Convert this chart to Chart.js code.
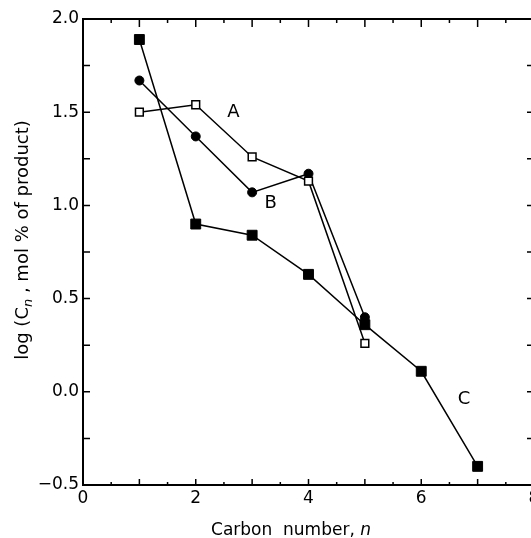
<!DOCTYPE html>
<html><head><meta charset="utf-8">
<style>html,body{margin:0;padding:0;background:#fff;overflow:hidden}
#wrap{position:relative;width:545px;height:538px}</style>
<script src="https://cdn.jsdelivr.net/npm/chart.js@4/dist/chart.umd.min.js"></script>
</head><body><div id="wrap"><canvas id="c" width="545" height="538"></canvas></div>
<script>
// ---- data ----
const carbonNumbersAB = [1, 2, 3, 4, 5];
const carbonNumbersC = [1, 2, 3, 4, 5, 6, 7];
const seriesA = [1.50, 1.54, 1.26, 1.13, 0.26];
const seriesB = [1.67, 1.37, 1.07, 1.17, 0.40];
const seriesC = [1.89, 0.90, 0.84, 0.63, 0.36, 0.11, -0.40];
const seriesNames = ['A', 'B', 'C'];
const xTickValues = [0, 2, 4, 6, 8];
const yTickValues = [-0.5, 0.0, 0.5, 1.0, 1.5, 2.0];
const xTitleParts = ['Carbon  number, ', 'n'];
const yTitleParts = ['log (C', 'n', ' , mol % of product)'];

// series label anchors (data coordinates)
const seriesLabelAt = [[2.67, 1.50], [3.33, 1.01], [6.76, -0.04]];

const FONT = '"DejaVu Sans", sans-serif';

const framePlugin = {
  id: 'frame',
  afterDraw(chart) {
    const {ctx, chartArea: a, scales: {x, y}} = chart;
    ctx.save();
    ctx.strokeStyle = '#000';
    ctx.lineWidth = 2;
    ctx.strokeRect(a.left, a.top, a.right - a.left, a.bottom - a.top);
    ctx.lineWidth = 1.5;
    ctx.beginPath();
    for (let v = 0; v <= 8.001; v += 0.5) {
      const px = x.getPixelForValue(v);
      const major = Math.abs(v - Math.round(v)) < 1e-6;
      ctx.moveTo(px, a.bottom); ctx.lineTo(px, a.bottom - (major ? 6 : 3));
      ctx.moveTo(px, a.top); ctx.lineTo(px, a.top + (major ? 8 : 4));
    }
    for (let v = -0.5; v <= 2.001; v += 0.25) {
      const py = y.getPixelForValue(v);
      ctx.moveTo(a.left, py); ctx.lineTo(a.left + 7, py);
      ctx.moveTo(a.right, py); ctx.lineTo(a.right - 7, py);
    }
    ctx.stroke();

    // series labels
    ctx.fillStyle = '#000';
    ctx.font = '18px ' + FONT;
    ctx.textAlign = 'center';
    ctx.textBaseline = 'middle';
    seriesNames.forEach((s, i) => {
      const [vx, vy] = seriesLabelAt[i];
      ctx.fillText(s, x.getPixelForValue(vx), y.getPixelForValue(vy));
    });

    // x title
    ctx.textAlign = 'left';
    ctx.textBaseline = 'alphabetic';
    const f1 = '17px ' + FONT, f2 = 'italic 17px ' + FONT;
    ctx.font = f1; const w1 = ctx.measureText(xTitleParts[0]).width;
    ctx.font = f2; const w2 = ctx.measureText(xTitleParts[1]).width;
    let sx = 291 - (w1 + w2) / 2;
    ctx.font = f1; ctx.fillText(xTitleParts[0], sx, 535);
    ctx.font = f2; ctx.fillText(xTitleParts[1], sx + w1, 535);

    // y title (rotated)
    ctx.translate(28, 240);
    ctx.rotate(-Math.PI / 2);
    const g1 = '18px ' + FONT, gs = 'italic 13px ' + FONT;
    ctx.font = g1; const a1 = ctx.measureText(yTitleParts[0]).width;
    ctx.font = gs; const a2 = ctx.measureText(yTitleParts[1]).width;
    ctx.font = g1; const a3 = ctx.measureText(yTitleParts[2]).width;
    let t = -(a1 + a2 + a3) / 2;
    ctx.font = g1; ctx.fillText(yTitleParts[0], t, 0);
    ctx.font = gs; ctx.fillText(yTitleParts[1], t + a1, 4);
    ctx.font = g1; ctx.fillText(yTitleParts[2], t + a1 + a2, 0);
    ctx.restore();
  }
};

const toPts = (xs, ys) => xs.map((n, i) => ({x: n, y: ys[i]}));

new Chart(document.getElementById('c').getContext('2d'), {
  type: 'scatter',
  data: {
    datasets: [
      {label: seriesNames[0], data: toPts(carbonNumbersAB, seriesA), showLine: true,
       borderColor: '#000', borderWidth: 1.5, pointStyle: 'rect', pointRadius: 5.5,
       pointBackgroundColor: '#fff', pointBorderColor: '#000', pointBorderWidth: 1.5},
      {label: seriesNames[1], data: toPts(carbonNumbersAB, seriesB), showLine: true,
       borderColor: '#000', borderWidth: 1.5, pointStyle: 'circle', pointRadius: 4.5,
       pointBackgroundColor: '#000', pointBorderColor: '#000', pointBorderWidth: 1},
      {label: seriesNames[2], data: toPts(carbonNumbersC, seriesC), showLine: true,
       borderColor: '#000', borderWidth: 1.5, pointStyle: 'rect', pointRadius: 7,
       pointBackgroundColor: '#000', pointBorderColor: '#000', pointBorderWidth: 1}
    ]
  },
  options: {
    responsive: false, animation: false, devicePixelRatio: 1,
    layout: {padding: {left: 0, top: 19, right: 11, bottom: 0}},
    plugins: {legend: {display: false}, tooltip: {enabled: false}},
    scales: {
      x: {
        type: 'linear', min: 0, max: 8,
        afterBuildTicks: s => { s.ticks = xTickValues.map(v => ({value: v})); },
        ticks: {color: '#000', font: {family: FONT, size: 17}, padding: 3, maxRotation: 0,
                callback: v => String(v)},
        grid: {display: false, drawTicks: false}, border: {display: false},
        afterFit: s => { s.height = 53; }
      },
      y: {
        type: 'linear', min: -0.5, max: 2,
        afterBuildTicks: s => { s.ticks = yTickValues.map(v => ({value: v})); },
        ticks: {color: '#000', font: {family: FONT, size: 17}, padding: 4,
                callback: v => Number(v).toFixed(1).replace('-', '\u2212')},
        grid: {display: false, drawTicks: false}, border: {display: false},
        afterFit: s => { s.width = 83; }
      }
    }
  },
  plugins: [framePlugin]
});
</script></body></html>
